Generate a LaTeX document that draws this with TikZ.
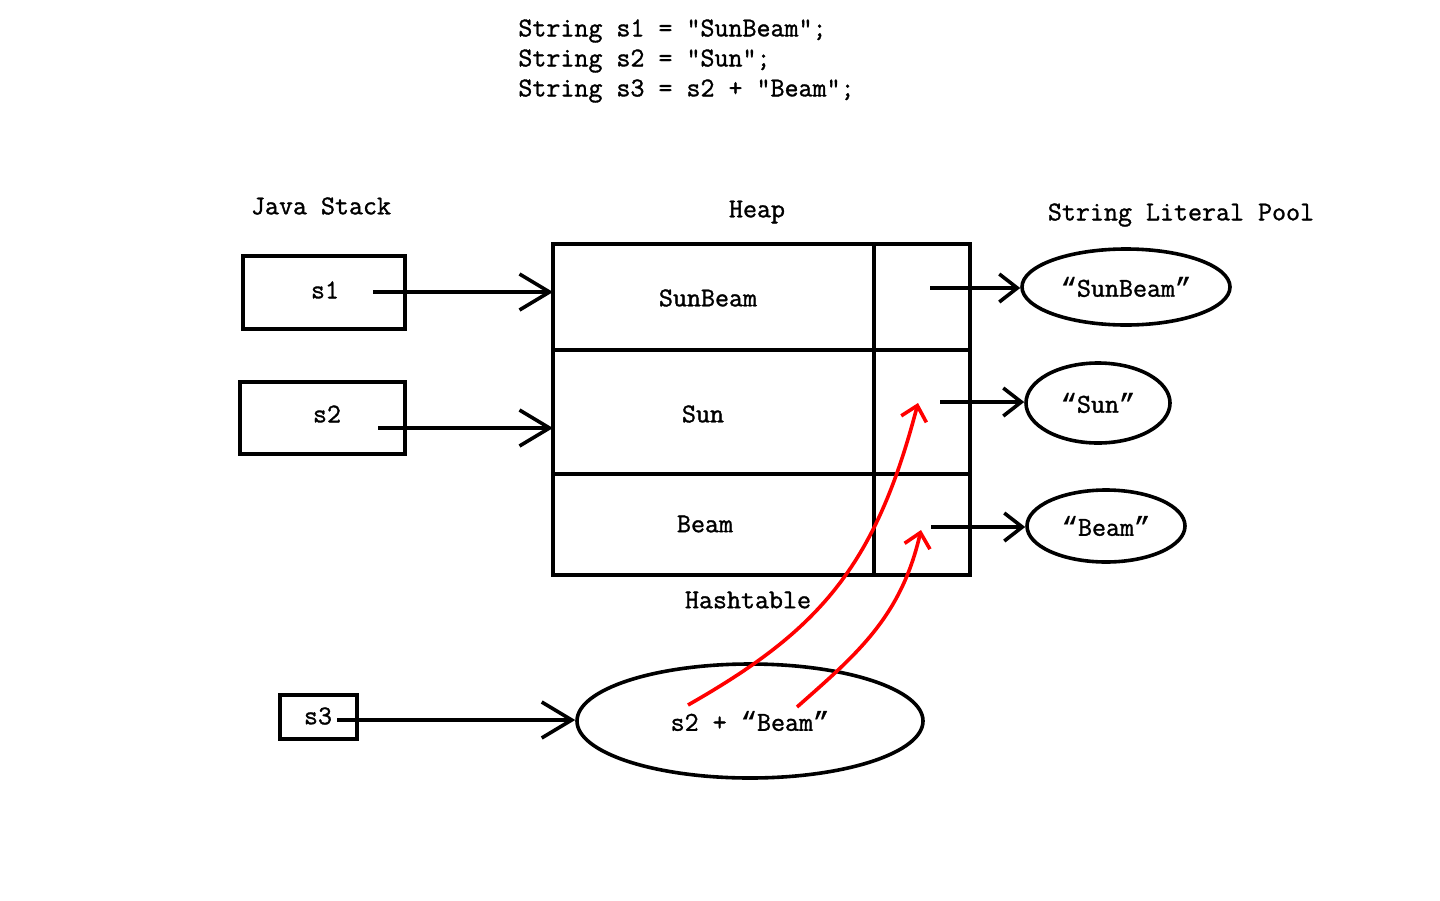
\documentclass[tikz,border=0pt]{standalone}
\usepackage{fontspec}
\setmonofont[FakeBold=1.2]{Latin Modern Mono}
\newfontfamily\quotefont[FakeBold=0.6]{Liberation Mono}
\newcommand{\oquote}{{\quotefont “}}
\newcommand{\cquote}{{\quotefont ”}}
\usetikzlibrary{arrows.meta,positioning,shapes.geometric}
\tikzset{
    %Define standard arrow tip
    >={Straight Barb[length=15pt,width=18pt]},
    %Define style for boxes
    stackbox/.style={
           rectangle,
           draw=black, line width=1.8pt,
           inner sep=0pt},
    % Define arrow style
    pil/.style={
           ->,
           line width=1.8pt},
    % Define small arrow style
    pilpool/.style={
           -{Straight Barb[length=9pt,width=14pt]},
           line width=1.8pt},
    % Define red arrow style
    rpil/.style={
           -{Straight Barb[length=7pt,width=13pt]},
           draw=red, line width=1.8pt}
}

\begin{document}
\begin{tikzpicture}[x=0.5pt,y=-0.5pt,
every node/.style={font=\ttfamily\fontsize{13.6}{15}\selectfont},
cell/.style={rectangle, draw=black, line width=1.8pt, inner sep=0pt, outer sep=0pt},
lit/.style={ellipse, draw=black, line width=1.8pt, inner sep=0pt}
]
\useasboundingbox (0,0) rectangle (1440,900);
%Code
\node[anchor=west, align=left, inner sep=0pt] (code) at (518,61)
{String s1 = "SunBeam";\\String s2 = "Sun";\\String s3 = s2 + "Beam";};
%Labels
\node (stacklbl) at (321,206) {Java Stack};
\node (heaplbl) at (757,212) {Heap};
\node (poollbl) at (1181,215) {String Literal Pool};
\node (hashlbl) at (748,600) {Hashtable};
%Stack
\node[stackbox, minimum width=81pt, minimum height=36.5pt] (s1) at (324,292.5) {};
\node at (325,290) {s1};
\node[stackbox, minimum width=82.5pt, minimum height=36pt] (s2) at (322.5,418) {};
\node at (327,414) {s2};
\node[stackbox, minimum width=38.5pt, minimum height=22pt] (s3) at (318.5,717) {};
\node at (318,716) {s3};
%Heap
\node[cell, minimum width=160.5pt, minimum height=53pt] (sunbeam) at (713.5,297) {};
\node[cell, minimum width=48pt, minimum height=53pt] (hashSB) [right=0pt of sunbeam] {};
\node[cell, minimum width=160.5pt, minimum height=62pt] (sun) [below=0pt of sunbeam] {};
\node[cell, minimum width=48pt, minimum height=62pt] (hashS) [right=0pt of sun] {};
\node[cell, minimum width=160.5pt, minimum height=50.5pt] (beam) [below=0pt of sun] {};
\node[cell, minimum width=48pt, minimum height=50.5pt] (hashB) [right=0pt of beam] {};
\node at (708,298) {SunBeam};
\node at (703,414) {Sun};
\node at (705,524) {Beam};
%Pool
\node[lit, minimum width=104pt, minimum height=38pt] (litSB) at (1126,287) {\oquote SunBeam\cquote};
\node[lit, minimum width=72pt, minimum height=40pt] (litS) at (1098,403) {\oquote Sun\cquote};
\node[lit, minimum width=79pt, minimum height=36pt] (litB) at (1106,526) {\oquote Beam\cquote};
\node[lit, minimum width=173pt, minimum height=57pt] (concat) at (750,721) {s2 + \oquote Beam\cquote};
%Arrows
\coordinate (s1out) at (373,292);
\coordinate (s2out) at (378,428);
\coordinate (s3out) at (337,720);
\coordinate (pSB) at (930,288);
\coordinate (pS) at (940,402);
\coordinate (pB) at (931,527);
\draw[pil] (s1out) -- (s1out -| sunbeam.west);
\draw[pil] (s2out) -- (s2out -| sun.west);
\draw[pil] (s3out) -- (s3out -| concat.west);
\draw[pilpool] (pSB) -- (pSB -| litSB.west);
\draw[pilpool] (pS) -- (pS -| litS.west);
\draw[pilpool] (pB) -- (pB -| litB.west);
\coordinate (rS) at (918,403);
\coordinate (rB) at (921,530);
\coordinate (c1) at (688,705);
\coordinate (c2) at (797,707);
\draw[rpil] (c1) .. controls (818,631) and (875,568) .. (rS);
\draw[rpil] (c2) .. controls (857,654) and (901,617) .. (rB);
\end{tikzpicture}
\end{document}
